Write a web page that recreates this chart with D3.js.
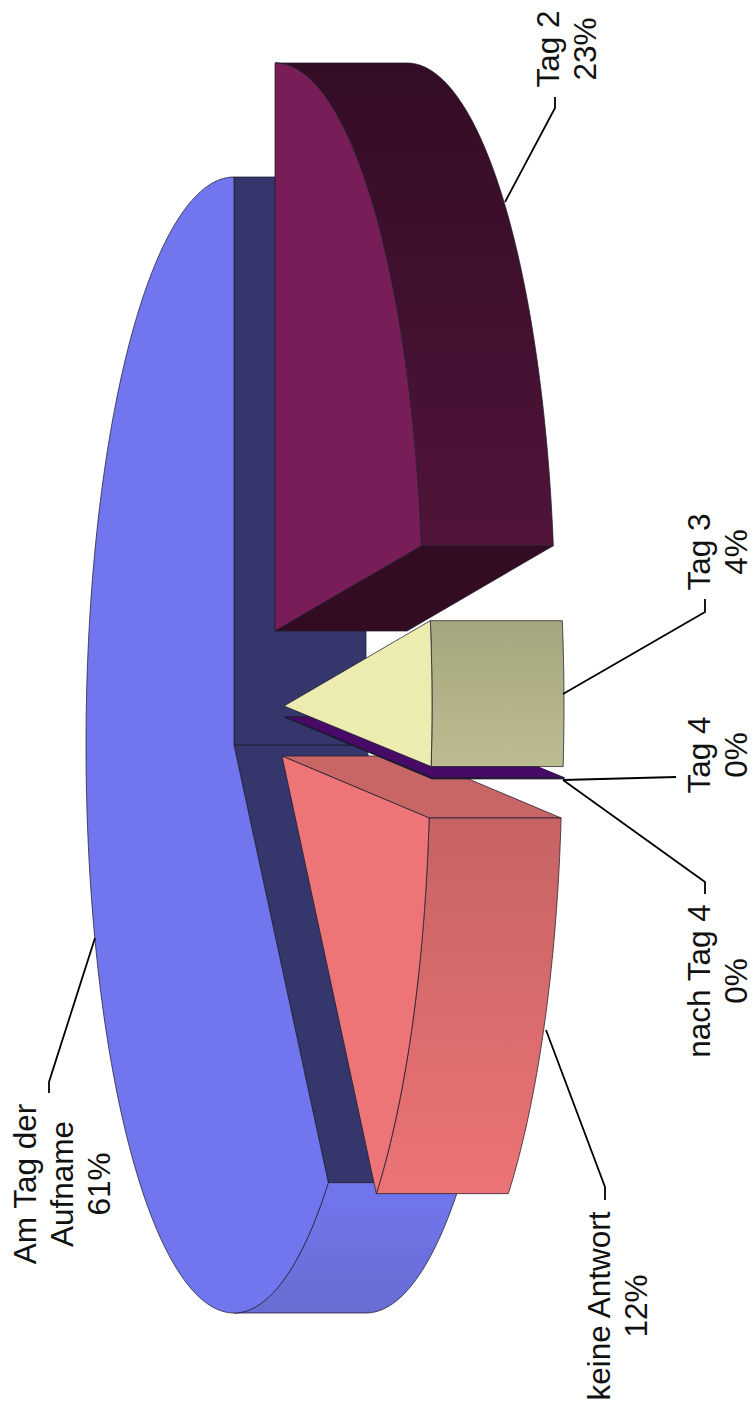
<!DOCTYPE html>
<html lang="de">
<head>
  <meta charset="UTF-8">
  <title>Tag der Antwort</title>
  <script src="https://d3js.org/d3.v7.min.js"></script>
  <style>
    body { margin: 0; padding: 0; background: #fff; }
    svg { display: block; }
    text { font-family: "Liberation Sans", Arial, sans-serif; font-size: 31.5px; fill: #111; text-anchor: middle; }
    .leader { fill: none; stroke: #000; stroke-width: 1.8px; }
    .edge { stroke: #1c1c2c; stroke-width: 1px; stroke-opacity: 0.75; stroke-linejoin: round; }
  </style>
</head>
<body>
  <svg width="753" height="1415"></svg>
  <script>
    // clockwise from the top of the pie
    const categories = ["Tag 2", "Tag 3", "Tag 4", "nach Tag 4", "keine Antwort", "Am Tag der Aufname"];
    const values = [22.6, 4.1, 0.02, 0.02, 12.26, 61.0];
    const labelLines = [["Tag 2"], ["Tag 3"], ["Tag 4"], ["nach Tag 4"], ["keine Antwort"], ["Am Tag der", "Aufname"]];

    const faceColors = ["#791d59", "#ecebb0", "#470a66", "#470a66", "#ee7577", "#7276ee"];
    const cutColors = ["#330c24", "#a6a67e", "#470a66", "#470a66", "#c86565", "#35366b"];
    const sideTop = ["#340c25", "#a6a67e", "#470a66", "#470a66", "#c66363", "#7276ee"];
    const sideBottom = ["#501439", "#bdbc91", "#470a66", "#470a66", "#ec7375", "#686cd2"];

    // how far each slice was pulled out, px
    const explodeX = [41, 50, 51, 51, 48, 0];
    const explodeY = [-114, -39, -28, -28, 11, 0];
    const depth = 132;

    // baseline x and centre y of each label, leader polyline
    const labelX = [559, 710, 710, 710, 610, 36];
    const labelY = [49, 552, 755, 981, 1306, 1184];
    const leaders = [
      [[505, 202], [555, 108], [555, 97]],
      [[563, 694], [705, 612], [705, 599]],
      [[563, 780], [676, 777]],
      [[563, 780], [705, 882], [705, 894]],
      [[546, 1030], [605, 1187], [605, 1200]],
      [[95, 938], [49, 1082], [49, 1093]]
    ];
    const lineGap = 37;

    const svg = d3.select("svg");
    const defs = svg.append("defs");

    const x = d3.scaleLinear().domain([-1, 1]).range([86, 382]);
    const y = d3.scaleLinear().domain([-1, 1]).range([177, 1313]);

    const arcs = d3.pie().sort(null).value(d => d)(values);
    const line = d3.line();

    // point on the rim at angle a for slice i, shifted back by z
    function rim(a, i, z) {
      return [x(Math.sin(a)) + explodeX[i] + z, y(-Math.cos(a)) + explodeY[i]];
    }
    function apex(i, z) {
      return [x(0) + explodeX[i] + z, y(0) + explodeY[i]];
    }
    function sweep(a0, a1) {
      const n = Math.max(2, Math.ceil((a1 - a0) / 0.01));
      return d3.range(n + 1).map(k => a0 + (a1 - a0) * k / n);
    }

    arcs.forEach((d, i) => {
      const g = defs.append("linearGradient")
        .attr("id", "side" + i)
        .attr("x1", 0).attr("y1", 0).attr("x2", 0).attr("y2", 1);
      g.append("stop").attr("offset", 0).attr("stop-color", sideTop[i]);
      g.append("stop").attr("offset", 1).attr("stop-color", sideBottom[i]);
    });

    // back to front
    const drawOrder = [5, 0, 4, 3, 2, 1];
    drawOrder.forEach(i => {
      const d = arcs[i];
      const group = svg.append("g").attr("class", "slice");

      // cut faces, only the ones turned to the viewer
      [[d.startAngle, -Math.cos(d.startAngle)], [d.endAngle, Math.cos(d.endAngle)]].forEach(([a, facing]) => {
        if (facing <= 0) return;
        group.append("path")
          .attr("class", "edge")
          .attr("fill", cutColors[i])
          .attr("d", line([apex(i, 0), rim(a, i, 0), rim(a, i, depth), apex(i, depth)]) + "Z");
      });

      // outer wall on the right half of the ellipse
      const a0 = d.startAngle;
      const a1 = Math.min(d.endAngle, Math.PI);
      if (a1 > a0) {
        const angles = sweep(a0, a1);
        const wall = angles.map(a => rim(a, i, 0)).concat(angles.slice().reverse().map(a => rim(a, i, depth)));
        group.append("path")
          .attr("class", "edge")
          .attr("fill", "url(#side" + i + ")")
          .attr("d", line(wall) + "Z");
      }

      // top face
      const face = [apex(i, 0)].concat(sweep(d.startAngle, d.endAngle).map(a => rim(a, i, 0)));
      group.append("path")
        .attr("class", "edge")
        .attr("fill", faceColors[i])
        .attr("d", line(face) + "Z");
    });

    svg.append("g").selectAll("path")
      .data(leaders)
      .join("path")
      .attr("class", "leader")
      .attr("d", d => line(d));

    categories.forEach((name, i) => {
      const lines = labelLines[i].concat(Math.round(values[i]) + "%");
      const t = svg.append("g")
        .attr("transform", "translate(" + labelX[i] + "," + labelY[i] + ") rotate(-90)");
      lines.forEach((s, k) => {
        t.append("text").attr("x", 0).attr("y", k * lineGap).text(s);
      });
    });
  </script>
</body>
</html>
